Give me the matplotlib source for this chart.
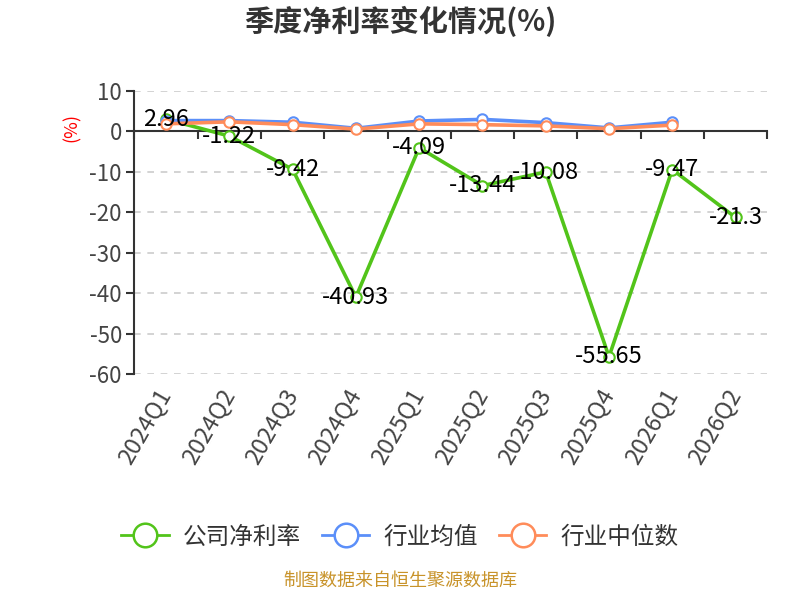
import matplotlib
matplotlib.use("Agg")
import matplotlib.pyplot as plt
from matplotlib.lines import Line2D

plt.rcParams['font.family'] = ['Noto Sans CJK SC', 'DejaVu Sans']
plt.rcParams['axes.unicode_minus'] = False

# data
quarters = ['2024Q1', '2024Q2', '2024Q3', '2024Q4', '2025Q1',
            '2025Q2', '2025Q3', '2025Q4', '2026Q1', '2026Q2']
company = [2.96, -1.22, -9.42, -40.93, -4.09, -13.44, -10.08, -55.65, -9.47, -21.3]
ind_mean = [2.6, 2.6, 2.2, 0.7, 2.5, 2.9, 2.1, 0.8, 2.2]
ind_median = [1.8, 2.3, 1.6, 0.5, 1.8, 1.6, 1.3, 0.6, 1.5]
yticks = [10, 0, -10, -20, -30, -40, -50, -60]

green = '#52c41a'
blue = '#5b8ff9'
orange = '#ff8c5a'
dark = '#333333'

fig = plt.figure(figsize=(8, 6), dpi=100)
ax = fig.add_axes([0.168, 0.376, 0.791, 0.473])

x = list(range(len(quarters)))
ax.plot(x, company, color=green, lw=2.6, marker='o', ms=7.5,
        mfc='white', mec=green, mew=1.5, zorder=3)
ax.plot(x[:len(ind_mean)], ind_mean, color=blue, lw=2.6, marker='o', ms=7.5,
        mfc='white', mec=blue, mew=1.5, zorder=4)
ax.plot(x[:len(ind_median)], ind_median, color=orange, lw=2.6, marker='o', ms=7.5,
        mfc='white', mec=orange, mew=1.5, zorder=5)

for xi, v in zip(x, company):
    ax.text(xi, v, f'{v:g}', ha='center', va='center', fontsize=17,
            color='black', zorder=6)

ax.set_xlim(-0.5, len(quarters) - 0.5)
ax.set_ylim(-60, 10)
ax.set_yticks(yticks)
ax.set_yticklabels([str(t) for t in yticks])
ax.grid(axis='y', color='#cccccc', ls=(0, (4, 4)), lw=1.2)
ax.set_axisbelow(True)

for s in ['top', 'right']:
    ax.spines[s].set_visible(False)
ax.spines['left'].set_color(dark)
ax.spines['left'].set_linewidth(1.5)
ax.tick_params(axis='y', colors=dark, labelsize=16, length=6, width=1.5,
               direction='out', pad=3, labelcolor='#444444')

# zero axis line with category boundary ticks
ax.spines['bottom'].set_position(('data', 0))
ax.spines['bottom'].set_color(dark)
ax.spines['bottom'].set_linewidth(1.5)
ax.spines['bottom'].set_zorder(2)
ax.set_xticks([i - 0.5 for i in x] + [len(x) - 0.5])
ax.set_xticklabels([])
ax.tick_params(axis='x', direction='out', length=6, width=1.5, colors=dark)

# category labels at the bottom of the plot
sec = ax.secondary_xaxis('bottom')
sec.set_xticks(x)
sec.set_xticklabels(quarters, rotation=60, ha='right', va='center',
                    rotation_mode='anchor', fontsize=17, color='#444444')
sec.tick_params(axis='x', length=0, pad=12)
sec.spines['bottom'].set_visible(False)

fig.text(0.09, 0.788, '(%)', rotation=90, color='red', fontsize=13,
         ha='center', va='center')

fig.suptitle('季度净利率变化情况(%)', x=0.5, y=0.99, fontsize=21,
             fontweight='bold', color=dark)

handles = [
    Line2D([0], [0], color=green, lw=2, marker='o', ms=17, mfc='white', mec=green, mew=1.8),
    Line2D([0], [0], color=blue, lw=2, marker='o', ms=17, mfc='white', mec=blue, mew=1.8),
    Line2D([0], [0], color=orange, lw=2, marker='o', ms=17, mfc='white', mec=orange, mew=1.8),
]
fig.legend(handles, ['公司净利率', '行业均值', '行业中位数'], loc='center',
           bbox_to_anchor=(0.5, 0.105), ncol=3, frameon=False, fontsize=17,
           handlelength=2.0, handletextpad=0.6, columnspacing=0.9,
           labelcolor=dark)

fig.text(0.5, 0.018, '制图数据来自恒生聚源数据库', ha='center', va='bottom',
         fontsize=13, color='#c8932a')

fig.savefig('out.png', dpi=100)
